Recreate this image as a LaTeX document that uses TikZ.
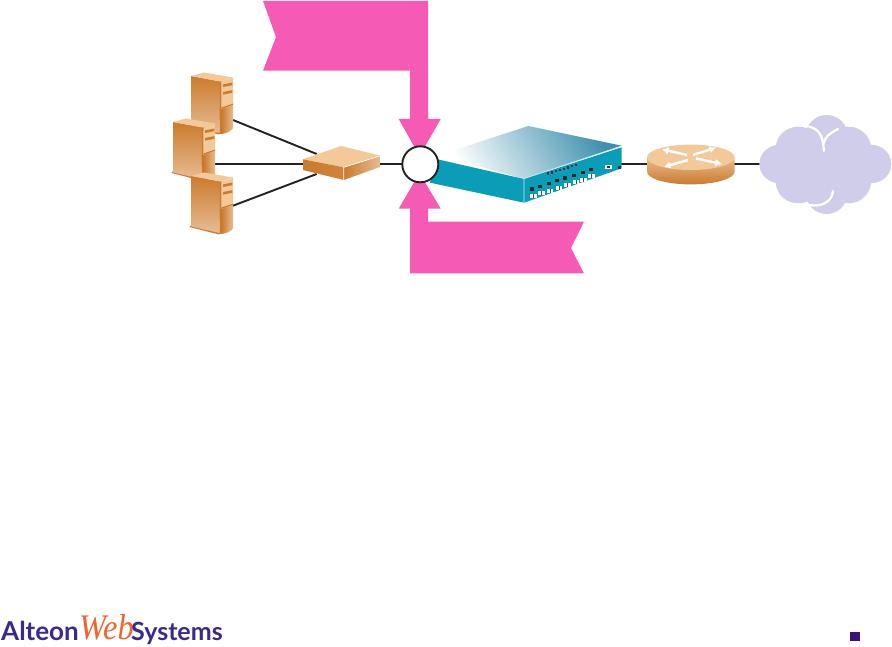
\documentclass[tikz,border=0pt]{standalone}
\usepackage{fontspec}
\usepackage{graphicx}
\setmainfont{Lato}
\newfontfamily\webfont{Liberation Serif}
\usetikzlibrary{arrows.meta}
\definecolor{pinkc}{HTML}{F55BB4}
\definecolor{orD}{HTML}{CC7A2C}
\definecolor{orL}{HTML}{F3C99A}
\definecolor{orM}{HTML}{E6BC94}
\definecolor{teal}{HTML}{0B9DB8}
\definecolor{tealtop}{HTML}{3F90AE}
\definecolor{cloudc}{HTML}{CFCDEA}
\definecolor{logoc}{HTML}{3A2A8C}
\definecolor{weborange}{HTML}{F0642D}
\definecolor{bullet}{HTML}{3F0F80}
\definecolor{linec}{HTML}{222222}
\tikzset{
  link/.style={draw=linec,line width=1.9pt},
  flag/.style={fill=pinkc,draw=none},
  routerarrow/.style={white,line width=2.4pt,-{Latex[length=6.5pt,width=7.5pt]}},
  cloudlobe/.style={fill=cloudc,draw=none},
  cloudarc/.style={draw=white,line width=2.3pt,line cap=round},
  logotext/.style={inner sep=0pt,anchor=base west,text=logoc}
}
\newcommand{\serverat}[2]{%
  \begin{scope}[shift={(#1,#2)}]
    \fill[orD] (-1.5,51) -- (28,58.5) -- (30,56) -- (0,49) -- cycle;
    \shade[top color=orD,bottom color=orM] (0,0) -- (29.5,5.5) -- (28.5,57) -- (0,50.5) -- cycle;
    \fill[orL] (0,0) -- (13,-3.5) -- (42,1.5) -- (29.5,5.5) -- cycle;
    \fill[orD] (29,5.5) -- (30.5,5.5) -- (30.5,58) -- (28.5,58) -- cycle;
    \fill[orL] (30.5,5.2) -- (42,1.7) -- (42,28) -- (30.5,31.5) -- cycle;
    \fill[orD] (30.5,31.5) -- (42,27.6) -- (42,29) -- (30.5,33) -- cycle;
    \shade[left color=orD,right color=orM] (30.5,33) -- (42,29) -- (42,52.5) .. controls (39,56) and (34,57.5) .. (30.5,58) -- cycle;
    \fill[orD] (32,8.4) -- (41.3,6.6) -- (41.3,9.2) -- (32,11) -- cycle;
    \fill[orD] (32,16) -- (41.3,14.2) -- (41.3,16.8) -- (32,18.6) -- cycle;
  \end{scope}}
\begin{document}
\begin{tikzpicture}[x=1pt,y=-1pt]
\useasboundingbox[fill=white] (0,0) rectangle (892,647);
% anchors of the connectors
\coordinate (srvA) at (233,120);
\coordinate (srvB) at (215,164.3);
\coordinate (srvC) at (233,205.7);
\coordinate (swA) at (316.7,154);
\coordinate (swB) at (304,164.3);
\coordinate (swC) at (316.7,174);
\coordinate (swR) at (380,164.3);
\coordinate (devL) at (430,164.3);
\coordinate (devR) at (621,164.3);
\coordinate (rtL) at (648,164.3);
\coordinate (rtR) at (734,164.3);
\coordinate (cloudL) at (762,164.3);
% pink flags
\fill[flag] (263,1) -- (428,1) -- (428,119) -- (440.7,119) -- (419.5,156) -- (398.7,119) -- (410,119) -- (410,70.7) -- (263,70.7) -- (276,37) -- cycle;
\fill[flag] (419.5,173) -- (440.7,208.7) -- (428,208.7) -- (428,221.7) -- (584,221.7) -- (571,248) -- (584,273.5) -- (410,273.5) -- (410,208.7) -- (398.7,208.7) -- cycle;
% links
\draw[link] (srvA) -- (swA);
\draw[link] (srvB) -- (swB);
\draw[link] (srvC) -- (swC);
\draw[link] (swR) -- (devL);
\draw[link] (devR) -- (rtL);
\draw[link] (rtR) -- (cloudL);
% servers
\serverat{191}{76}
\serverat{173}{122}
\serverat{191}{176}
% hub
\fill[orL] (303,159.3) -- (341,146) -- (380.7,155.7) -- (343.7,167.3) -- cycle;
\shade[left color=orD,right color=orD!85!orM] (303,159.3) -- (343.7,167.3) -- (343.7,180) -- (303,170) -- cycle;
\shade[left color=orD,right color=orM] (343.7,167.3) -- (380.7,155.7) -- (380.7,166.7) -- (343.7,180) -- cycle;
\draw[white,line width=.7pt] (343.7,180) -- (343.7,167.3) -- (380.7,155.7);
% device
\shade[shading=axis,left color=white,right color=tealtop,shading angle=120]
  (439.3,155) -- (528.3,126) -- (621.7,145.7) -- (524,179) -- cycle;
\fill[teal] (436,159) -- (524,179) -- (524,202.7) -- (430,182.7) -- cycle;
\fill[teal] (524,179) -- (621.7,147.3) -- (621.7,168.3) -- (524,202.7) -- cycle;
\draw[white!80!teal,line width=.6pt] (524,202.7) -- (524,178.5) -- (621.7,146);
\foreach \px/\py in {531.7/189,540/186.3,549/183.7,557.3/180.7,565.3/178,574.3/175.3,582.7/172.7,591.3/169.7}
  \fill[black!85] (\px-2,\py-1.6) rectangle (\px+2,\py+1.6);
\foreach \px/\py in {533.3/196,541.7/193.3,550/191,559/187.7,567.7/185,576/182.3,583.3/180,591.7/176.3}
  {\fill[white] (\px-3.4,\py-2) rectangle (\px+3.4,\py+2);
   \fill[black!70] (\px-.4,\py-2) rectangle (\px+.4,\py+2);}
\foreach \px/\py in {548/173.5,552/172.5,556/171.3,560/170.2,564/169,568/167.5,572/166.3,576/165}
  \fill[black!80] (\px-1.1,\py-1.1) rectangle (\px+1.1,\py+1.1);
\fill[white] (605,165) rectangle (612,168.8);
\fill[black!80] (607,166) rectangle (609.5,167.8);
\fill[black!80] (618,166.3) rectangle (620.5,168.6);
% tap circle
\node[circle,draw=linec,fill=white,line width=1.9pt,minimum size=36pt,inner sep=0pt] (tap) at (420.3,164.3) {};
% router
\shade[top color=orM,bottom color=orD]
  (647,157.3) -- (647,171.7) arc[x radius=43.8,y radius=12.7,start angle=180,end angle=0] -- (734.7,157.3) -- cycle;
\fill[orL] (690.8,157.3) ellipse[x radius=43.8,y radius=12.7];
\draw[routerarrow] (687,155) -- (662,149.3);
\draw[routerarrow] (693,155) -- (716,147.6);
\draw[routerarrow] (688,160) -- (664,167);
\draw[routerarrow] (696,158.5) -- (722,164);
% cloud
\foreach \cx/\cy/\rx/\ry in {590/105/62/60,590/280/62/62,505/145/68/65,655/145/68/65,505/245/68/65,655/245/68/65,450/192/62/58,722/192/62/58}
  \fill[cloudlobe] ({630+\cx/3},{100+\cy/3}) ellipse[x radius=\rx/3,y radius=\ry/3];
\fill[cloudlobe] (790,140) rectangle (860,190);
\draw[cloudarc] (809,126.5) .. controls (817,129) and (823.5,133) .. (823.7,151);
\draw[cloudarc] (838,129) .. controls (830,133) and (825,137) .. (823.7,143);
\draw[cloudarc] (833,191) .. controls (832,203) and (820,207) .. (809,205);
% logo
\node[logotext,font=\fontsize{26}{26}\selectfont\bfseries] (alteon) at (1,640) {Alteon};
\node[inner sep=0pt,anchor=base west,text=weborange,font=\fontsize{36}{36}\webfont\itshape] (web) at (79,639) {\scalebox{.9}[1]{Web}};
\node[logotext,font=\fontsize{25}{25}\selectfont\bfseries] (systems) at (131,640) {Systems};
% bullet
\fill[bullet] (849.5,632) rectangle (859.5,641);
\end{tikzpicture}
\end{document}
